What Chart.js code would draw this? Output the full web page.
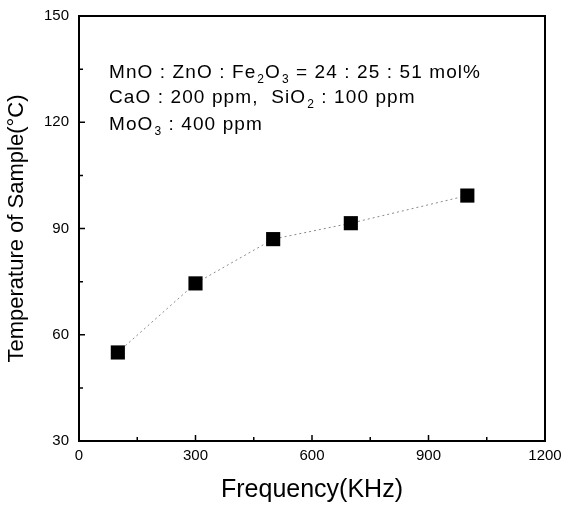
<!DOCTYPE html>
<html>
<head>
<meta charset="utf-8">
<script src="https://cdn.jsdelivr.net/npm/chart.js@4"></script>
<style>
  html, body { margin: 0; padding: 0; background: #fff; }
  #wrap { width: 563px; height: 507px; }
</style>
</head>
<body>
<div id="wrap"><canvas id="chart" width="563" height="507"></canvas></div>
<script>
const frequencies = [100, 300, 500, 700, 1000];
const temperatures = [55, 74.5, 87, 91.5, 99.3];
const xTicks = [0, 300, 600, 900, 1200];
const yTicks = [30, 60, 90, 120, 150];

// composition note, [text, isSubscript]
const noteLines = [
    [['MnO : ZnO : Fe', false], ['2', true], ['O', false], ['3', true], [' = 24 : 25 : 51 mol%', false]],
    [['CaO : 200 ppm,  SiO', false], ['2', true], [' : 100 ppm', false]],
    [['MoO', false], ['3', true], [' : 400 ppm', false]]
];

const FONT = '"Liberation Sans", Arial, sans-serif';

// frame + inward ticks
const framePlugin = {
    id: 'frame',
    afterDraw(chart) {
        const { ctx, chartArea: a, scales } = chart;
        ctx.save();
        ctx.strokeStyle = '#000';
        ctx.lineWidth = 2;
        ctx.strokeRect(a.left, a.top, a.right - a.left, a.bottom - a.top);

        ctx.lineWidth = 1.5;
        ctx.beginPath();
        for (let v = 0; v <= 1200; v += 150) {
            const x = scales.x.getPixelForValue(v);
            const len = v % 300 === 0 ? 6 : 4;
            ctx.moveTo(x, a.bottom);
            ctx.lineTo(x, a.bottom - len);
        }
        for (let v = 30; v <= 150; v += 15) {
            const y = scales.y.getPixelForValue(v);
            const len = v % 30 === 0 ? 6 : 4;
            ctx.moveTo(a.left, y);
            ctx.lineTo(a.left + len, y);
        }
        ctx.stroke();
        ctx.restore();
    }
};

const notePlugin = {
    id: 'note',
    afterDraw(chart) {
        const { ctx } = chart;
        const baselines = [78, 103, 130];
        ctx.save();
        ctx.fillStyle = '#000';
        ctx.textBaseline = 'alphabetic';
        noteLines.forEach((parts, i) => {
            let x = 109;
            parts.forEach(([txt, sub]) => {
                ctx.font = sub ? `12px ${FONT}` : `19px ${FONT}`;
                ctx.letterSpacing = sub ? '0px' : '1.1px';
                ctx.fillText(txt, x, baselines[i] + (sub ? 5 : 0));
                x += ctx.measureText(txt).width + 1;
            });
        });
        ctx.restore();
    }
};

new Chart(document.getElementById('chart'), {
    type: 'scatter',
    data: {
        datasets: [{
            data: frequencies.map((f, i) => ({ x: f, y: temperatures[i] })),
            showLine: true,
            borderColor: '#8a8a8a',
            borderWidth: 1,
            borderDash: [2, 3],
            pointStyle: 'rect',
            pointRadius: 10,
            pointHoverRadius: 10,
            pointBackgroundColor: '#000',
            pointBorderColor: '#000',
            pointBorderWidth: 0
        }]
    },
    options: {
        responsive: false,
        animation: false,
        devicePixelRatio: 1,
        layout: { padding: { top: 16, right: 18, left: 0, bottom: 0 } },
        plugins: { legend: { display: false }, tooltip: { enabled: false } },
        scales: {
            x: {
                type: 'linear',
                min: 0,
                max: 1200,
                afterBuildTicks: (s) => { s.ticks = xTicks.map(v => ({ value: v })); },
                afterFit: (s) => { s.height = 66; s.paddingLeft = 0; s.paddingRight = 0; },
                grid: { display: false, drawTicks: false },
                border: { display: false },
                ticks: { color: '#000', padding: 6, font: { family: FONT, size: 15 }, maxRotation: 0, callback: (v) => String(v) },
                title: {
                    display: true,
                    text: 'Frequency(KHz)',
                    color: '#000',
                    font: { family: FONT, size: 25 },
                    padding: { top: 0, bottom: 2 }
                }
            },
            y: {
                type: 'linear',
                min: 30,
                max: 150,
                afterBuildTicks: (s) => { s.ticks = yTicks.map(v => ({ value: v })); },
                afterFit: (s) => { s.width = 79; s.paddingTop = 0; s.paddingBottom = 0; },
                grid: { display: false, drawTicks: false },
                border: { display: false },
                ticks: { color: '#000', padding: 10, font: { family: FONT, size: 15 }, callback: (v) => String(v) },
                title: {
                    display: true,
                    text: 'Temperature of Sample(°C)',
                    color: '#000',
                    font: { family: FONT, size: 22 },
                    padding: { top: 4, bottom: 0 }
                }
            }
        }
    },
    plugins: [framePlugin, notePlugin]
});
</script>
</body>
</html>
